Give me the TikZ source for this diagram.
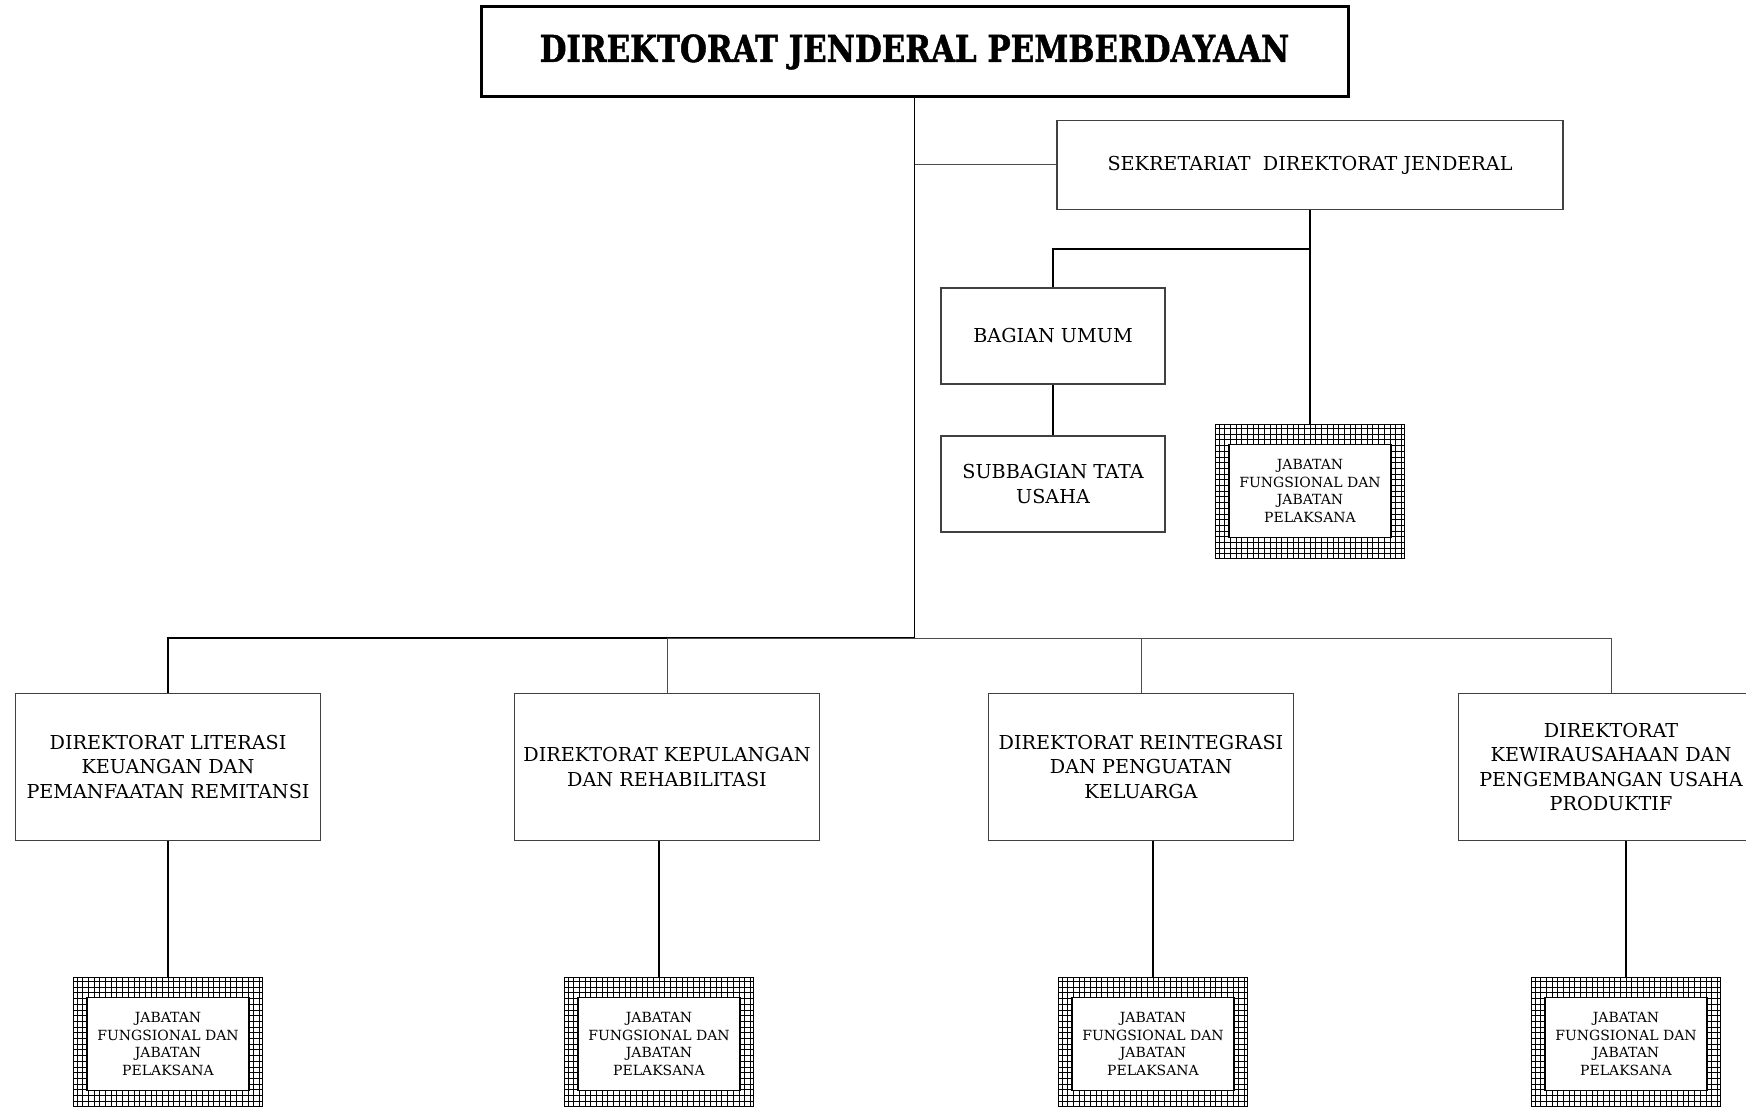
\documentclass[tikz,border=0pt]{standalone}
\usepackage{fontspec}
\setmainfont{DejaVu Serif}
\newfontfamily\titlefont[FakeStretch=0.835,FakeBold=1.2]{DejaVu Serif}
\usetikzlibrary{positioning}

\tikzset{
  box/.style={draw=black!75,line width=1.2pt,align=center,inner sep=2pt,
    font=\fontsize{19.2}{24.5}\selectfont},
  dirbox/.style={box,minimum width=305pt,minimum height=147pt},
  jab/.style={draw,line width=1pt,minimum width=189pt,minimum height=134pt,
    path picture={\draw[line width=0.45pt] (path picture bounding box.south west) grid[step=5.7pt] (path picture bounding box.north east);}},
  jabin/.style={draw,fill=white,line width=1.6pt,minimum width=162pt,minimum height=93pt,
    align=center,inner sep=1pt,font=\fontsize{14}{17.8}\selectfont},
  conn/.style={line width=1.8pt},
  thinconn/.style={line width=1pt,black!70}
}

\begin{document}
\begin{tikzpicture}[x=1pt,y=-1pt]
\useasboundingbox[fill=white] (0,0) rectangle (1746,1107);

\node [draw,line width=3pt,minimum width=867pt,minimum height=90pt] (dj) at (914.5,52)
  {\titlefont\bfseries\fontsize{37}{40}\selectfont\raisebox{-2pt}{DIREKTORAT JENDERAL PEMBERDAYAAN}};

% sekretariat
\node [box,minimum width=506pt,minimum height=89pt] (sek) at (1310,165) {SEKRETARIAT\ \ DIREKTORAT JENDERAL};
\node [box,minimum width=224pt,minimum height=96pt] (umum) at (1053,336) {BAGIAN UMUM};
\node [box,minimum width=224pt,minimum height=96pt] (tu) at (1053,484) {SUBBAGIAN TATA\\USAHA};
\node [jab] (jsek) at (1310,491) {};
\node [jabin] at (jsek.center) (jseki) {JABATAN\\FUNGSIONAL DAN\\JABATAN\\PELAKSANA};

% direktorat
\node [dirbox] (dir1) at (168,767) {DIREKTORAT LITERASI\\KEUANGAN DAN\\PEMANFAATAN REMITANSI};
\node [dirbox] (dir2) at (667,767) {DIREKTORAT KEPULANGAN\\DAN REHABILITASI};
\node [dirbox] (dir3) at (1141,767) {DIREKTORAT REINTEGRASI\\DAN PENGUATAN\\KELUARGA};
\node [dirbox] (dir4) at (1611,767) {DIREKTORAT\\KEWIRAUSAHAAN DAN\\PENGEMBANGAN USAHA\\PRODUKTIF};

\foreach \i/\x in {1/168,2/659,3/1153,4/1626}{
  \node [jab] (jab\i) at (\x,1044) {};
  \node [jabin] at (jab\i.center) (jabi\i) {JABATAN\\FUNGSIONAL DAN\\JABATAN\\PELAKSANA};
}

\coordinate (hub) at (914.5,638);
\coordinate (sekfork) at (1310,249);

\draw [conn] (dj.south) -- (hub);
\draw [thinconn] (dj.south |- sek.west) -- (sek.west);
\draw [conn] (sek.south) -- (jsek.north);
\draw [conn] (sekfork) -| (umum.north);
\draw [conn] (umum) -- (tu);

\draw [conn] (hub) -| (dir1.north);
\draw [thinconn] (hub) -| (dir2.north);
\draw [thinconn] (hub) -| (dir3.north);
\draw [thinconn] (hub) -| (dir4.north);

\foreach \i in {1,2,3,4}
  \draw [conn] (jab\i.north |- dir\i.south) -- (jab\i.north);
\end{tikzpicture}
\end{document}
